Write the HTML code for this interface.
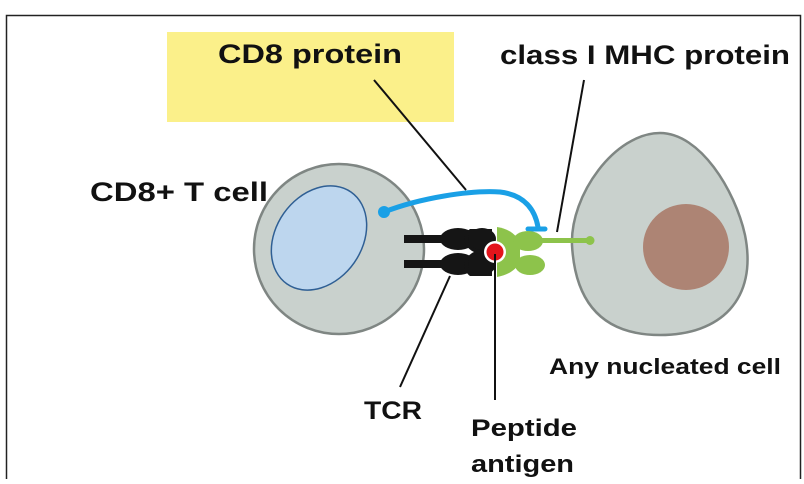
<!DOCTYPE html>
<html><head><meta charset="utf-8"><style>
body{margin:0;background:#fff;width:804px;height:479px;overflow:hidden}
svg text{font-family:"Liberation Sans",sans-serif;font-weight:bold;fill:#111}
</style></head><body>
<svg width="804" height="479" viewBox="0 0 804 479">
<rect x="6.5" y="15.5" width="794" height="470" fill="none" stroke="#222" stroke-width="1.5"/>
<rect x="167" y="32" width="287" height="90" fill="#fbf08a"/>
<text x="310" y="63" font-size="27" text-anchor="middle" textLength="184" lengthAdjust="spacingAndGlyphs">CD8 protein</text>
<text x="500" y="64" font-size="27" textLength="290" lengthAdjust="spacingAndGlyphs">class I MHC protein</text>
<text x="90" y="201" font-size="27" textLength="178" lengthAdjust="spacingAndGlyphs">CD8+ T cell</text>
<text x="549" y="374" font-size="22" textLength="232" lengthAdjust="spacingAndGlyphs">Any nucleated cell</text>
<text x="364" y="419" font-size="25" textLength="58" lengthAdjust="spacingAndGlyphs">TCR</text>
<text x="471" y="436" font-size="24" textLength="106" lengthAdjust="spacingAndGlyphs">Peptide</text>
<text x="471" y="472" font-size="24" textLength="103" lengthAdjust="spacingAndGlyphs">antigen</text>
<!-- cells -->
<ellipse cx="339" cy="249" rx="85" ry="85" fill="#c9d1cd" stroke="#7f8683" stroke-width="2.5"/>
<ellipse cx="319" cy="238" rx="56" ry="43" transform="rotate(-55 319 238)" fill="#bdd6ee" stroke="#2f5f94" stroke-width="1.5"/>
<path d="M660 133 C700 133 735 190 745 235 C758 300 720 335 660 335 C600 335 575 300 572 245 C570 195 615 133 660 133 Z" fill="#c9d1cd" stroke="#7f8683" stroke-width="2.5"/>
<circle cx="686" cy="247" r="43" fill="#ad8474"/>
<!-- connector lines -->
<line x1="374" y1="80" x2="466" y2="190" stroke="#111" stroke-width="2"/>
<line x1="584" y1="80" x2="557" y2="232" stroke="#111" stroke-width="2"/>
<line x1="450" y1="276" x2="400" y2="387" stroke="#111" stroke-width="2"/>
<!-- CD8 blue -->
<path d="M384 212 C420 198 470 190 500 192 C525 195 535 210 538 227" fill="none" stroke="#1aa0e6" stroke-width="5" stroke-linecap="round"/>
<circle cx="384" cy="212" r="6" fill="#1aa0e6"/>
<path d="M528 229 L545 229" stroke="#1aa0e6" stroke-width="5" stroke-linecap="round"/>
<!-- TCR -->
<rect x="404" y="235" width="40" height="8" fill="#151515"/>
<rect x="404" y="260" width="40" height="8" fill="#151515"/>
<ellipse cx="458" cy="239" rx="18" ry="11" fill="#151515"/>
<ellipse cx="458" cy="264" rx="18" ry="11" fill="#151515"/>
<path d="M470 229 L492 229 L492 276 L470 276 C462 270 462 258 474 252 C462 246 462 235 470 229Z" fill="#151515"/>
<ellipse cx="482" cy="239" rx="14" ry="11" fill="#151515"/>
<ellipse cx="482" cy="264" rx="14" ry="11" fill="#151515"/>
<!-- MHC green -->
<path d="M497 227 C510 229 518 236 520 244 L520 262 C516 270 508 275 497 277 Z" fill="#8dc34b"/>
<ellipse cx="528" cy="241" rx="15" ry="10" fill="#8dc34b"/>
<ellipse cx="530" cy="265" rx="15" ry="10" fill="#8dc34b"/>
<rect x="538" y="238" width="52" height="5" fill="#8dc34b"/>
<circle cx="590" cy="240.5" r="4.5" fill="#8dc34b"/>
<!-- peptide -->
<circle cx="495" cy="252" r="11" fill="#fff"/>
<circle cx="495" cy="252" r="8.5" fill="#e3141b"/>
<line x1="495" y1="254" x2="495" y2="400" stroke="#111" stroke-width="2"/>
</svg>
</body></html>
